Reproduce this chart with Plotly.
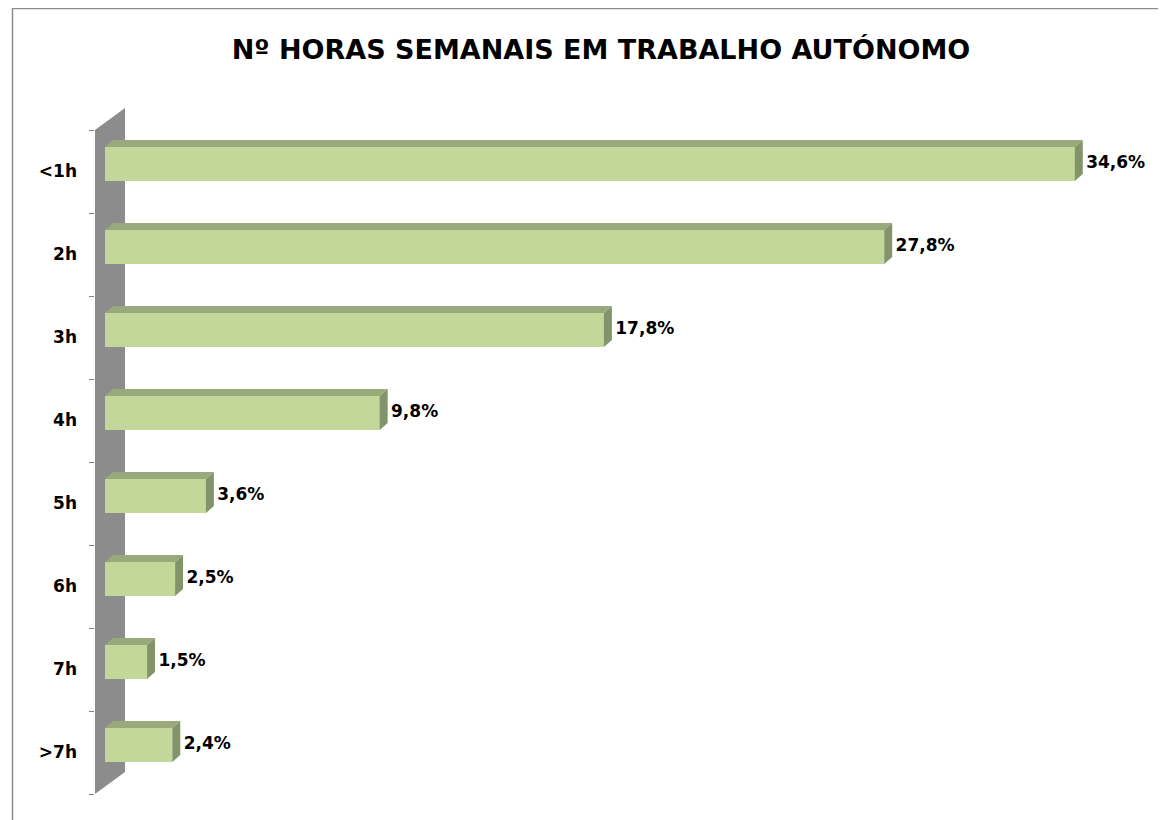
import plotly.graph_objects as go

categories = ["<1h", "2h", "3h", "4h", "5h", "6h", "7h", ">7h"]
values = [34.6, 27.8, 17.8, 9.8, 3.6, 2.5, 1.5, 2.4]
labels = ["34,6%", "27,8%", "17,8%", "9,8%", "3,6%", "2,5%", "1,5%", "2,4%"]
title_text = "Nº HORAS SEMANAIS EM TRABALHO AUTÓNOMO"

W, H = 1166, 820
ML, MR, MT, MB = 87, 14, 100, 34
X_MIN, X_MAX = -0.357, 37.64
Y_TOP, Y_BOT = -0.675, 7.59
BAR_W = 0.41
DX, DY = 0.285, 0.084          # 3D depth offset of bars (data units)
WALL_DX, WALL_DY = 1.071, 0.265  # depth offset of the side wall
FRONT_C = "#c4d79b"
TOP_C = "#9aa97c"
SIDE_C = "#84946a"
WALL_C = "#8c8c8c"
FONT = "DejaVu Sans"

n = len(categories)
ys = list(range(n))

fig = go.Figure()

# top and side faces of the bars
for y, v in zip(ys, values):
    t = y - BAR_W / 2
    b = y + BAR_W / 2
    fig.add_trace(go.Scatter(
        x=[0, DX, v + DX, v, 0], y=[t, t - DY, t - DY, t, t],
        fill="toself", fillcolor=TOP_C, mode="lines", line=dict(width=0),
        hoverinfo="skip", showlegend=False))
    fig.add_trace(go.Scatter(
        x=[v, v + DX, v + DX, v, v], y=[t, t - DY, b - DY, b, t],
        fill="toself", fillcolor=SIDE_C, mode="lines", line=dict(width=0),
        hoverinfo="skip", showlegend=False))

# front faces
fig.add_trace(go.Bar(
    x=values, y=ys, orientation="h", width=BAR_W, base=0,
    marker=dict(color=FRONT_C, line=dict(width=0)),
    hoverinfo="skip", showlegend=False))

# data labels
fig.add_trace(go.Scatter(
    x=[v + DX + 0.12 for v in values], y=ys, mode="text",
    text=["<b>" + s + "</b>" for s in labels],
    textposition="middle right",
    textfont=dict(family=FONT, size=17, color="#000000"),
    cliponaxis=False, hoverinfo="skip", showlegend=False))

px_w = W - ML - MR
px_h = H - MT - MB

# side wall behind the bars
wall_top = -0.41
wall_bot = n - 0.41
wall_path = "M {a},{b} L {c},{d} L {c},{e} L {a},{f} Z".format(
    a=X_MIN, b=wall_top, c=X_MIN + WALL_DX, d=wall_top - WALL_DY,
    e=wall_bot - WALL_DY, f=wall_bot)

fig.update_layout(
    width=W, height=H,
    margin=dict(l=ML, r=MR, t=MT, b=MB, pad=0),
    paper_bgcolor="white", plot_bgcolor="rgba(0,0,0,0)",
    title=dict(text="<b>" + title_text + "</b>", x=593 / W, xanchor="center",
               y=1 - 42 / H, yanchor="middle", xref="container", yref="container",
               font=dict(family=FONT, size=27, color="#000000")),
    xaxis=dict(range=[X_MIN, X_MAX], visible=False, showgrid=False, zeroline=False),
    yaxis=dict(range=[Y_BOT, Y_TOP], showgrid=False, zeroline=False, showline=False,
               tickmode="array", tickvals=[y + 0.09 for y in ys],
               ticktext=["<b>" + c + "</b>" for c in categories],
               ticks="", ticklabelstandoff=17,
               tickfont=dict(family=FONT, size=17, color="#000000"),
               minor=dict(tickmode="array", tickvals=[k - 0.41 for k in range(n + 1)],
                          ticks="outside", ticklen=5, tickcolor="#808080", tickwidth=1,
                          showgrid=False)),
    bargap=0,
    shapes=[
        dict(type="path", xref="x", yref="y", path=wall_path,
             fillcolor=WALL_C, line=dict(width=0), layer="below"),
        dict(type="rect", xref="paper", yref="paper",
             x0=(4.5 - ML) / px_w, x1=(W + 5 - ML) / px_w,
             y0=-(MB + 5) / px_h, y1=(H - 0.5 - MB) / px_h,
             line=dict(color="#8c8c8c", width=1.5), fillcolor="rgba(0,0,0,0)",
             layer="below"),
    ],
)

fig.write_html("out.html")
